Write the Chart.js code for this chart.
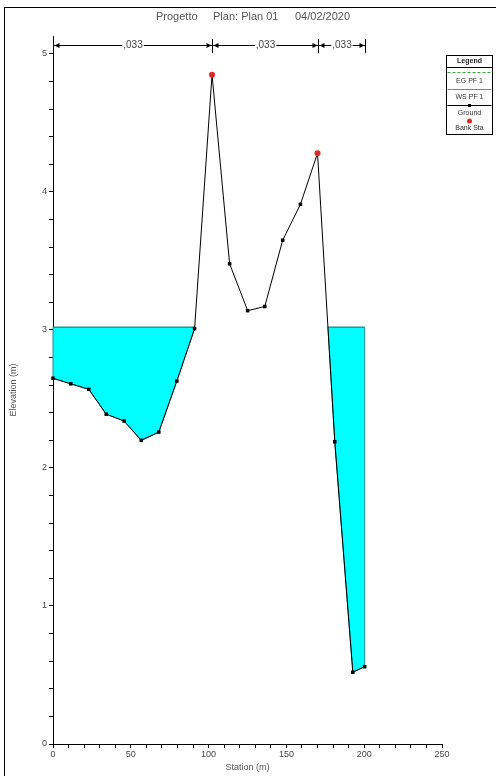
<!DOCTYPE html>
<html>
<head>
<meta charset="utf-8">
<script src="https://cdn.jsdelivr.net/npm/chart.js@4.4.1/dist/chart.umd.min.js"></script>
<style>
    html, body { margin: 0; padding: 0; background: #fff; }
    #wrap { width: 496px; height: 776px; }
</style>
</head>
<body>
<div id="wrap"><canvas id="xs" width="496" height="776"></canvas></div>
<script>
// Cross section data (station m, elevation m)
const stations   = [0, 11.4, 23.0, 34.2, 45.7, 56.7, 68.0, 79.6, 91.0, 102.2, 113.5, 125.1, 136.1, 147.6, 159.0, 170.0, 181.1, 192.7, 200.3];
const groundElev = [2.65, 2.61, 2.57, 2.39, 2.34, 2.20, 2.26, 2.63, 3.01, 4.85, 3.48, 3.14, 3.17, 3.65, 3.91, 4.28, 2.19, 0.52, 0.56];
const bankIdx    = [9, 15];          // left / right bank station points
const wsElev     = 3.02;             // WS PF 1
const manningN   = [',033', ',033', ',033'];

const yMajorTicks = [0, 1, 2, 3, 4, 5];
const xMajorTicks = [0, 50, 100, 150, 200, 250];
const titleParts  = ['Progetto', 'Plan: Plan 01', '04/02/2020'];
const legendItems = ['EG PF 1', 'WS PF 1', 'Ground', 'Bank Sta'];

const FONT = "'Liberation Sans', Arial, sans-serif";

// minor ticks: y every 0.2, x every 10
const yTicks = [];
for (let i = 0; i <= 25; i++) yTicks.push(Math.round(i * 2) / 10);
const xTicks = [];
for (let v = 0; v <= 250; v += 10) xTicks.push(v);

/**
 * Splits the ground profile into wetted polygons below the water surface
 */
function wetPolygons() {
    const polys = [];
    let cur = null;
    for (let i = 0; i < stations.length; i++) {
        const x = stations[i], y = groundElev[i];
        if (i > 0) {
            const px = stations[i - 1], py = groundElev[i - 1];
            if ((py < wsElev) !== (y < wsElev)) {
                const xi = px + (wsElev - py) * (x - px) / (y - py);
                if (cur) { cur.push([xi, wsElev]); polys.push(cur); cur = null; }
                else cur = [[xi, wsElev]];
            }
        }
        if (y < wsElev) {
            if (!cur) cur = [[x, wsElev]];
            cur.push([x, y]);
        }
    }
    if (cur) { cur.push([stations[stations.length - 1], wsElev]); polys.push(cur); }
    return polys;
}

const wetted = wetPolygons();

// water surface line, broken between wetted areas
const wsLine = [];
wetted.forEach((p, k) => {
    if (k > 0) wsLine.push({ x: p[0][0] - 0.01, y: null });
    wsLine.push({ x: p[0][0], y: wsElev });
    wsLine.push({ x: p[p.length - 1][0], y: wsElev });
});
wsLine.sort((a, b) => a.x - b.x);

const waterFill = {
    id: 'waterFill',
    beforeDatasetsDraw(chart) {
        const { ctx, scales: { x, y } } = chart;
        ctx.save();
        wetted.forEach(poly => {
            ctx.beginPath();
            poly.forEach(([sx, sy], i) => {
                const px = x.getPixelForValue(sx), py = y.getPixelForValue(sy);
                if (i === 0) ctx.moveTo(px, py); else ctx.lineTo(px, py);
            });
            ctx.closePath();
            ctx.fillStyle = '#00ffff';
            ctx.fill();
            ctx.strokeStyle = '#1f8f8f';
            ctx.lineWidth = 1;
            ctx.stroke();
        });
        ctx.restore();
    }
};

const decorations = {
    id: 'decorations',
    afterDraw(chart) {
        const { ctx, scales: { x, y }, chartArea } = chart;
        ctx.save();

        // outer frame
        ctx.strokeStyle = '#000';
        ctx.lineWidth = 1;
        ctx.strokeRect(4.5, 7.5, 600, 800);

        // title
        ctx.fillStyle = '#555';
        ctx.font = '11px ' + FONT;
        ctx.textBaseline = 'middle';
        ctx.textAlign = 'left';
        const titleX = [156, 213, 295];
        titleParts.forEach((t, i) => ctx.fillText(t, titleX[i], 17));

        // axis titles
        ctx.font = '9px ' + FONT;
        ctx.fillStyle = '#555';
        ctx.textAlign = 'center';
        ctx.fillText('Station (m)', (chartArea.left + chartArea.right) / 2, 768);
        ctx.save();
        ctx.translate(14, (chartArea.top + chartArea.bottom) / 2);
        ctx.rotate(-Math.PI / 2);
        ctx.fillText('Elevation (m)', 0, 0);
        ctx.restore();

        // Manning's n bar
        const bounds = [stations[0], stations[bankIdx[0]], stations[bankIdx[1]], stations[stations.length - 1]]
            .map(v => Math.round(x.getPixelForValue(v)) + 0.5);
        const ly = 45.5;
        ctx.strokeStyle = '#000';
        ctx.fillStyle = '#000';
        bounds.forEach(bx => {
            ctx.beginPath(); ctx.moveTo(bx, 39); ctx.lineTo(bx, 53); ctx.stroke();
        });
        ctx.font = '10px ' + FONT;
        for (let i = 0; i < 3; i++) {
            const a = bounds[i], b = bounds[i + 1];
            const mid = (a + b) / 2;
            const tw = ctx.measureText(manningN[i]).width;
            ctx.beginPath();
            ctx.moveTo(a, ly); ctx.lineTo(mid - tw / 2 - 1, ly);
            ctx.moveTo(mid + tw / 2 + 1, ly); ctx.lineTo(b, ly);
            ctx.stroke();
            // arrowheads
            ctx.beginPath();
            ctx.moveTo(a + 1, ly); ctx.lineTo(a + 6, ly - 2.5); ctx.lineTo(a + 6, ly + 2.5); ctx.closePath();
            ctx.moveTo(b - 1, ly); ctx.lineTo(b - 6, ly - 2.5); ctx.lineTo(b - 6, ly + 2.5); ctx.closePath();
            ctx.fill();
            ctx.fillStyle = '#444';
            ctx.textAlign = 'center';
            ctx.fillText(manningN[i], mid, ly);
            ctx.fillStyle = '#000';
        }

        // legend box
        const bx0 = 446.5, bx1 = 492.5, cx = (bx0 + bx1) / 2;
        ctx.strokeStyle = '#000';
        ctx.strokeRect(bx0, 55.5, bx1 - bx0, 79);
        ctx.fillStyle = '#222';
        ctx.font = 'bold 7px ' + FONT;
        ctx.fillText('Legend', cx, 61.5);
        ctx.beginPath(); ctx.moveTo(bx0, 67.5); ctx.lineTo(bx1, 67.5); ctx.stroke();
        // EG symbol: green dashed
        ctx.strokeStyle = '#3aa83a';
        ctx.setLineDash([3, 2]);
        ctx.beginPath(); ctx.moveTo(bx0 + 1, 72.5); ctx.lineTo(bx1 - 1, 72.5); ctx.stroke();
        ctx.setLineDash([]);
        // WS symbol
        ctx.strokeStyle = '#7c8794';
        ctx.beginPath(); ctx.moveTo(bx0 + 1, 89.5); ctx.lineTo(bx1 - 1, 89.5); ctx.stroke();
        // Ground symbol
        ctx.strokeStyle = '#000';
        ctx.beginPath(); ctx.moveTo(bx0 + 1, 105.5); ctx.lineTo(bx1 - 1, 105.5); ctx.stroke();
        ctx.fillStyle = '#000';
        ctx.fillRect(cx - 1.5, 104, 3, 3);
        // Bank symbol
        ctx.fillStyle = '#e02828';
        ctx.beginPath(); ctx.arc(cx, 121, 2.5, 0, Math.PI * 2); ctx.fill();
        ctx.fillStyle = '#333';
        ctx.font = '7px ' + FONT;
        const legendY = [81, 97, 113, 128];
        legendItems.forEach((t, i) => ctx.fillText(t, cx, legendY[i]));

        ctx.restore();
    }
};

new Chart(document.getElementById('xs'), {
    type: 'line',
    data: {
        datasets: [
            {
                label: 'Bank Sta',
                type: 'scatter',
                data: bankIdx.map(i => ({ x: stations[i], y: groundElev[i] })),
                pointRadius: 3,
                pointBackgroundColor: '#e02828',
                pointBorderWidth: 0,
                showLine: false,
                clip: false,
                order: 0
            },
            {
                label: 'Ground',
                data: stations.map((s, i) => ({ x: s, y: groundElev[i] })),
                borderColor: '#000',
                borderWidth: 1,
                pointStyle: 'rect',
                pointRadius: ctx => bankIdx.includes(ctx.dataIndex) ? 0 : 2.5,
                pointBackgroundColor: '#000',
                pointBorderWidth: 0,
                tension: 0,
                clip: false,
                order: 1
            },
            {
                label: 'WS PF 1',
                data: wsLine,
                borderColor: '#1f8f8f',
                borderWidth: 1,
                pointRadius: 0,
                spanGaps: false,
                clip: false,
                order: 2
            }
        ]
    },
    options: {
        responsive: false,
        animation: false,
        events: [],
        layout: { padding: { top: 36, right: 54, left: 0, bottom: 0 } },
        plugins: {
            legend: { display: false },
            tooltip: { enabled: false },
            title: { display: false }
        },
        scales: {
            x: {
                type: 'linear',
                min: 0,
                max: 250,
                afterBuildTicks: s => { s.ticks = xTicks.map(v => ({ value: v })); },
                afterFit: s => { s.height = 32; s.paddingLeft = 0; s.paddingRight = 0; },
                ticks: {
                    autoSkip: false,
                    maxRotation: 0,
                    padding: 1,
                    color: '#444',
                    font: { family: FONT, size: 9 },
                    callback: v => xMajorTicks.includes(v) ? String(v) : ''
                },
                grid: { drawOnChartArea: false, tickLength: 4, tickColor: '#000', tickWidth: 1 },
                border: { display: true, color: '#000', width: 1 }
            },
            y: {
                type: 'linear',
                min: 0,
                max: 5.13,
                afterBuildTicks: s => { s.ticks = yTicks.map(v => ({ value: v })); },
                afterFit: s => { s.width = 53; s.paddingTop = 0; s.paddingBottom = 0; },
                ticks: {
                    autoSkip: false,
                    padding: 2,
                    color: '#444',
                    font: { family: FONT, size: 9 },
                    callback: v => yMajorTicks.includes(v) ? String(v) : ''
                },
                grid: { drawOnChartArea: false, tickLength: 4, tickColor: '#000', tickWidth: 1 },
                border: { display: true, color: '#000', width: 1 }
            }
        }
    },
    plugins: [waterFill, decorations]
});
</script>
</body>
</html>
